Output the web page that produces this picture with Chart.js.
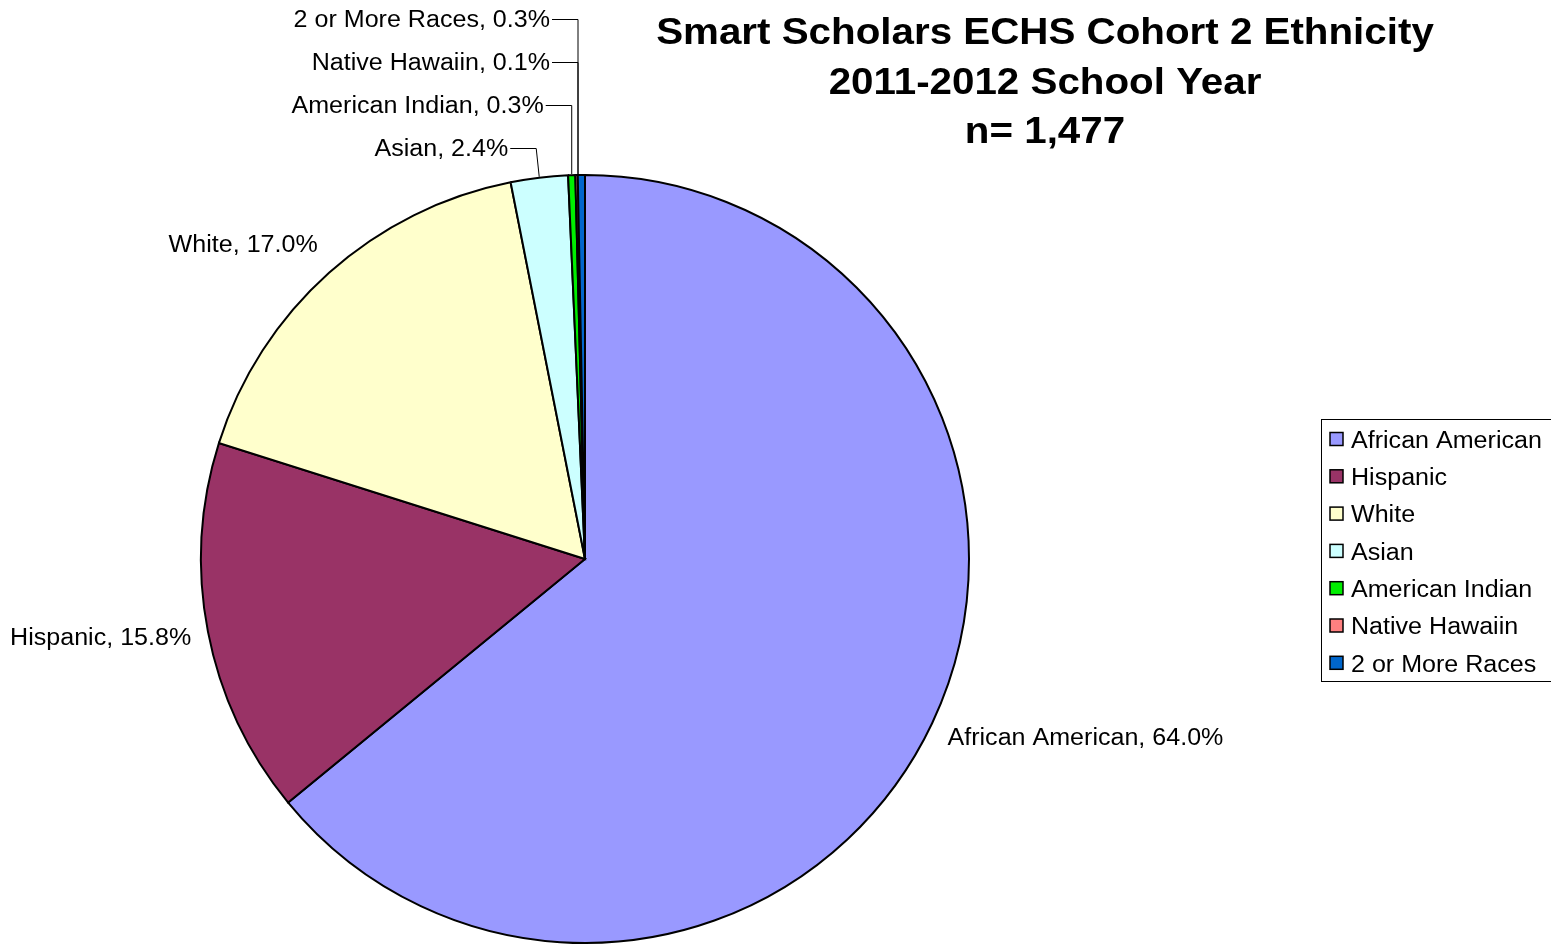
<!DOCTYPE html>
<html>
<head>
<meta charset="utf-8">
<script src="https://cdn.jsdelivr.net/npm/chart.js@4.4.1/dist/chart.umd.min.js"></script>
<style>
html,body{margin:0;padding:0;background:#fff;}
#wrap{width:1551px;height:945px;position:relative;}
</style>
</head>
<body>
<div id="wrap"><canvas id="c" width="1551" height="945"></canvas></div>
<script>
const categories = ["African American","Hispanic","White","Asian","American Indian","Native Hawaiin","2 or More Races"];
const percentages = [64.0, 15.8, 17.0, 2.4, 0.3, 0.1, 0.3];
const sliceColors = ["#9999FF","#993366","#FFFFCC","#CCFFFF","#00EE00","#FF8080","#0066CC"];
const titleLines = ["Smart Scholars ECHS Cohort 2 Ethnicity","2011-2012 School Year","n= 1,477"];

const FONT = '"Liberation Sans", Arial, sans-serif';

// draw text with horizontal stretch; align: 'left' | 'right' | 'center'
function stretchText(ctx, text, x, y, align, sx) {
  const w = ctx.measureText(text).width * sx;
  let left = x;
  if (align === 'right') left = x - w;
  else if (align === 'center') left = x - w / 2;
  ctx.save();
  ctx.translate(left, y);
  ctx.scale(sx, 1);
  ctx.textAlign = 'left';
  ctx.fillText(text, 0, 0);
  ctx.restore();
  return w;
}

const labelPlugin = {
  id: 'customLabels',
  afterDraw(chart) {
    const ctx = chart.ctx;
    const meta = chart.getDatasetMeta(0);
    ctx.save();
    // title
    ctx.fillStyle = '#000';
    ctx.font = 'bold 37px ' + FONT;
    ctx.textBaseline = 'middle';
    titleLines.forEach((t, i) => stretchText(ctx, t, 1045, 34 + i * 49.5, 'center', 1.09));

    // data labels
    ctx.font = '23px ' + FONT;
    ctx.lineWidth = 1;
    ctx.strokeStyle = '#000';
    const SX = 1.09;
    const smallItems = [];
    meta.data.forEach((arc, i) => {
      const p = arc.getProps(['x','y','startAngle','endAngle','outerRadius'], true);
      const mid = (p.startAngle + p.endAngle) / 2;
      const text = categories[i] + ', ' + percentages[i].toFixed(1) + '%';
      if (percentages[i] >= 5) {
        const r = p.outerRadius + 17;
        const lx = p.x + Math.cos(mid) * r;
        const ly = p.y + Math.sin(mid) * r + 19 * Math.sin(mid);
        ctx.textBaseline = 'middle';
        stretchText(ctx, text, lx, ly, Math.cos(mid) >= 0 ? 'left' : 'right', SX);
      } else {
        smallItems.push({i, p, mid, text});
      }
    });
    smallItems.forEach((s, k) => {
      const ax = s.p.x + Math.cos(s.mid) * s.p.outerRadius;
      const ay = s.p.y + Math.sin(s.mid) * s.p.outerRadius;
      const ly = s.p.y - s.p.outerRadius - 27 - k * 43;
      const lineX = ax - (k === 0 ? 3 : 0);
      const vx = k >= 2 ? 578 : lineX;
      const textRight = vx - 28;
      ctx.textBaseline = 'middle';
      ctx.fillStyle = '#000';
      stretchText(ctx, s.text, textRight, ly + 1.5, 'right', SX);
      ctx.beginPath();
      ctx.moveTo(textRight + 2, ly + 0.5);
      ctx.lineTo(vx, ly + 0.5);
      ctx.lineTo(k >= 2 ? vx : ax, ay - 1);
      ctx.stroke();
    });

    // legend
    const lx = 1321.5, ly = 419.5, lw = 240, lh = 262;
    ctx.strokeStyle = '#000';
    ctx.lineWidth = 1;
    ctx.strokeRect(lx, ly, lw, lh);
    ctx.font = '23px ' + FONT;
    ctx.textBaseline = 'middle';
    categories.forEach((c, i) => {
      const cy = 439 + i * 37.3;
      ctx.fillStyle = sliceColors[i];
      ctx.fillRect(1330, cy - 6.5, 13, 13);
      ctx.lineWidth = 1.5;
      ctx.strokeStyle = '#000';
      ctx.strokeRect(1330, cy - 6.5, 13, 13);
      ctx.fillStyle = '#000';
      stretchText(ctx, c, 1351, cy + 2.5, 'left', 1.09);
    });
    ctx.restore();
  }
};

new Chart(document.getElementById('c'), {
  type: 'pie',
  data: {
    labels: categories,
    datasets: [{
      data: percentages,
      backgroundColor: sliceColors,
      borderColor: '#000',
      borderWidth: 2,
      borderJoinStyle: 'miter'
    }]
  },
  options: {
    responsive: false,
    animation: false,
    layout: { padding: { left: 200, right: 581, top: 174, bottom: 1 } },
    plugins: { legend: { display: false }, tooltip: { enabled: false }, title: { display: false } }
  },
  plugins: [labelPlugin]
});
</script>
</body>
</html>
